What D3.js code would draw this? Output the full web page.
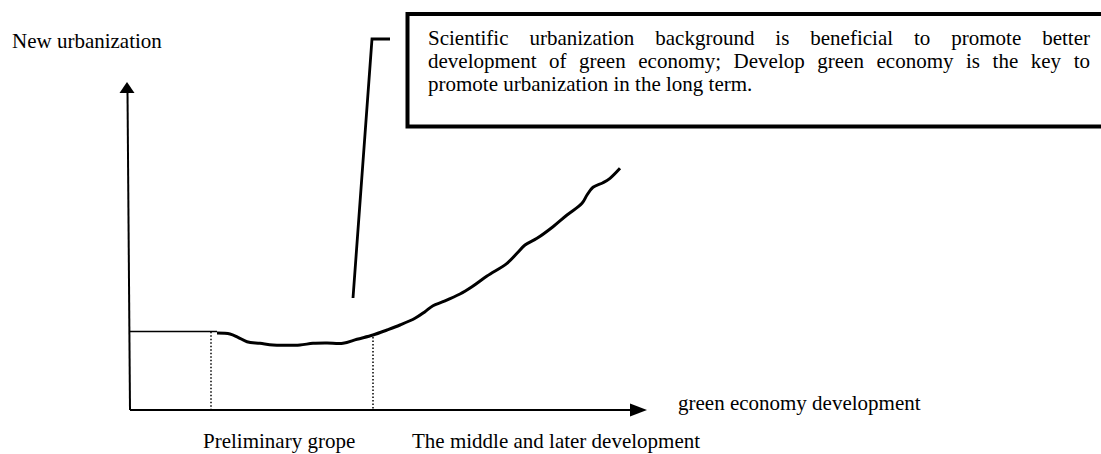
<!DOCTYPE html>
<html>
<head>
<meta charset="utf-8">
<script src="https://cdn.jsdelivr.net/npm/d3@7"></script>
<style>
  html, body { margin: 0; padding: 0; background: #fff; }
  text { font-family: 'Liberation Serif', 'Times New Roman', Times, serif; }
</style>
</head>
<body>
<div id="chart"></div>
<script>
// curve: green economy development (x) vs new urbanization (y)
const growthX = [87, 100, 108, 117, 130, 143, 153, 170, 183, 197, 213, 227, 243, 257, 270, 285, 295, 303, 313, 330, 342, 357, 377, 387, 395, 407, 423, 437, 452, 457, 463, 473, 480, 490];
const growthY = [77, 76, 72.7, 68.3, 66.7, 65, 64.7, 65, 66.7, 67, 66.7, 70.7, 75, 80, 85, 91.7, 98.3, 104.3, 108.3, 116, 123.3, 134, 146.7, 156.7, 165, 171.7, 183.3, 195, 206.7, 215, 222.7, 227.3, 231.7, 241.7];

// flat starting level and the two stage boundaries
const baseLevel = 78.5;
const baseEnd = 87;
const stageX = [81, 243];
const stageTop = [78.3, 73];
const stageLabels = ["Preliminary grope", "The middle and later development"];
const stageLabelX = [73, 282];

const xTitle = "green economy development";
const yTitle = "New urbanization";

// callout: from point on chart up to the note box
const calloutX = [223, 242, 260];
const calloutY = [112, 371, 371];
const noteLines = [
  "Scientific urbanization background is beneficial to promote better",
  "development of green economy; Develop green economy is the key to",
  "promote urbanization in the long term."
];

const W = 1101, H = 454;
const FONT = "'Liberation Serif', 'Times New Roman', Times, serif";
const FS = 21;
const svg = d3.select("#chart").append("svg").attr("width", W).attr("height", H);

const x = d3.scaleLinear().domain([0, 517]).range([130, 647]);
const y = d3.scaleLinear().domain([0, 328]).range([410, 82]);

// axes
svg.append("line")
  .attr("x1", x(0)).attr("y1", y(0)).attr("x2", x(0) - 2.5).attr("y2", y(328) + 10)
  .attr("stroke", "#000").attr("stroke-width", 2);
svg.append("path")
  .attr("d", `M${x(0) - 3},${y(328)} L${x(0) - 10.5},${y(328) + 11} L${x(0) + 4.5},${y(328) + 11} Z`)
  .attr("fill", "#000");

svg.append("line")
  .attr("x1", x(0)).attr("y1", y(0)).attr("x2", x(517) - 16).attr("y2", y(0))
  .attr("stroke", "#000").attr("stroke-width", 2);
svg.append("path")
  .attr("d", `M${x(517)},${y(0)} L${x(517) - 17},${y(0) - 6.5} L${x(517) - 17},${y(0) + 6.5} Z`)
  .attr("fill", "#000");

// flat initial level
svg.append("line")
  .attr("x1", x(0)).attr("x2", x(baseEnd))
  .attr("y1", y(baseLevel)).attr("y2", y(baseLevel))
  .attr("stroke", "#000").attr("stroke-width", 1.5);

// stage dividers
svg.selectAll("line.stage")
  .data(stageX)
  .enter().append("line")
  .attr("class", "stage")
  .attr("x1", d => x(d)).attr("x2", d => x(d))
  .attr("y1", (d, i) => y(stageTop[i])).attr("y2", y(0))
  .attr("stroke", "#000").attr("stroke-width", 1.5)
  .attr("stroke-dasharray", "1.5,2");

// growth curve
const pts = growthX.map((v, i) => [v, growthY[i]]);
svg.append("path")
  .datum(pts)
  .attr("fill", "none")
  .attr("stroke", "#000")
  .attr("stroke-width", 3)
  .attr("stroke-linejoin", "round")
  .attr("d", d3.line().x(d => x(d[0])).y(d => y(d[1])).curve(d3.curveCatmullRom));

// callout line
svg.append("path")
  .datum(calloutX.map((v, i) => [v, calloutY[i]]))
  .attr("fill", "none")
  .attr("stroke", "#000")
  .attr("stroke-width", 2.8)
  .attr("d", d3.line().x(d => x(d[0])).y(d => y(d[1])));

// note box
svg.append("rect")
  .attr("x", 407.5).attr("y", 14)
  .attr("width", 720).attr("height", 112.5)
  .attr("fill", "#fff").attr("stroke", "#000").attr("stroke-width", 4);

const textLeft = 428, textRight = 1090;
noteLines.forEach((line, li) => {
  const baseY = 45 + li * 22.8;
  const words = line.split(" ");
  const g = svg.append("g");
  const nodes = words.map(w => g.append("text")
    .attr("y", baseY).attr("font-size", FS).attr("font-family", FONT)
    .attr("fill", "#000").text(w));
  const widths = nodes.map(n => n.node().getComputedTextLength());
  const total = d3.sum(widths);
  const justify = li < noteLines.length - 1;
  const gap = justify ? (textRight - textLeft - total) / (words.length - 1) : FS * 0.25;
  let cx = textLeft;
  nodes.forEach((n, i) => { n.attr("x", cx); cx += widths[i] + gap; });
});

// titles
svg.append("text")
  .attr("x", 12).attr("y", 48)
  .attr("font-size", FS).attr("font-family", FONT).attr("fill", "#000")
  .text(yTitle);

svg.append("text")
  .attr("x", 678).attr("y", 410)
  .attr("font-size", FS).attr("font-family", FONT).attr("fill", "#000")
  .text(xTitle);

svg.selectAll("text.stage")
  .data(stageLabels)
  .enter().append("text")
  .attr("class", "stage")
  .attr("x", (d, i) => x(stageLabelX[i]))
  .attr("y", 448)
  .attr("font-size", FS).attr("font-family", FONT).attr("fill", "#000")
  .text(d => d);
</script>
</body>
</html>
